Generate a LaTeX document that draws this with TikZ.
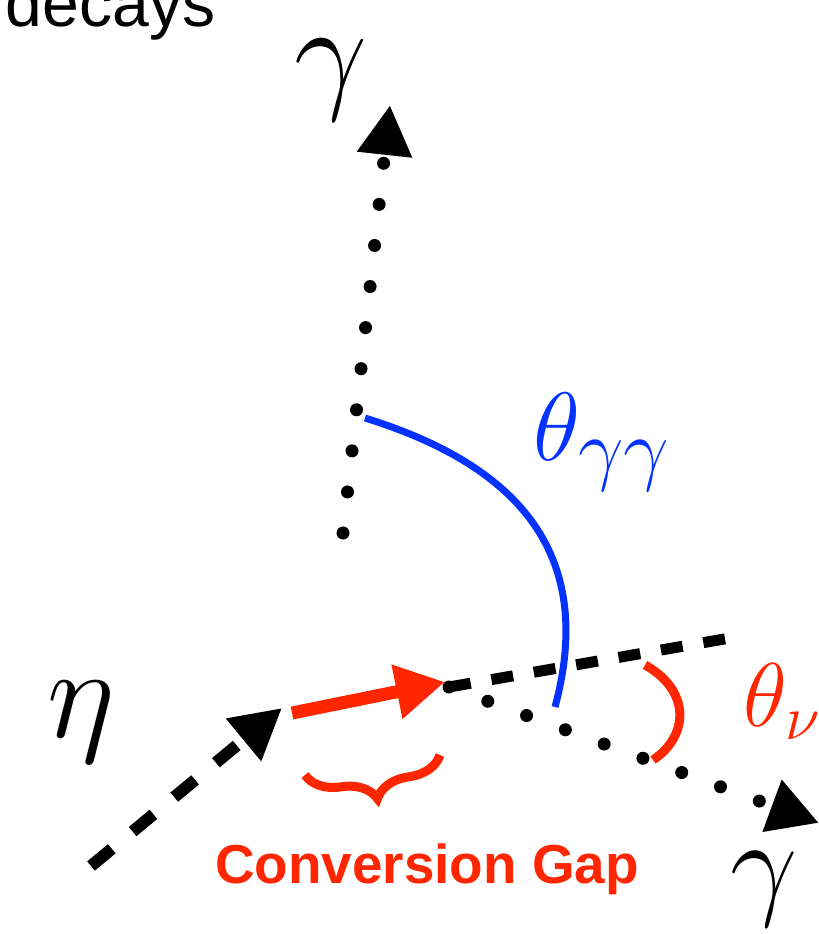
\documentclass[tikz,border=0pt]{standalone}
\usepackage{fontspec}
\newfontfamily\labelfont{Liberation Sans}
\usetikzlibrary{arrows.meta,decorations.pathreplacing}
\definecolor{keyred}{RGB}{255,38,0}
\definecolor{keyblue}{RGB}{4,51,255}
\tikzset{
  bigtip/.style={-{Triangle[length=0.5cm,width=0.52cm]}},
  etaline/.style={bigtip, line width=0.12cm, black, dash pattern=on 0.27cm off 0.27cm},
  nuline/.style={line width=0.11cm, black, dash pattern=on 0.22cm off 0.21cm},
  photon/.style={bigtip, line width=0.13cm, black, line cap=round, dash pattern=on 0pt off 0.413cm},
  convarrow/.style={-{Triangle[length=0.49cm,width=0.52cm]}, line width=0.13cm, keyred},
  ggarc/.style={line width=0.07cm, keyblue},
  nuarc/.style={line width=0.09cm, keyred},
  gapbrace/.style={decorate, decoration={brace,mirror,amplitude=0.34cm}, line width=0.09cm, keyred},
  biglabel/.style={inner sep=0, font=\Huge, scale=1.487},
}

\begin{document}
\begin{tikzpicture}[x=0.01cm, y=-0.01cm]
\clip (0,0) rectangle (819,934);
% end points of the tracks
\coordinate (etastart) at (91,866);
\coordinate (etaend) at (282,708);
\coordinate (gapstart) at (292,713);
\coordinate (conv) at (445,682);
\coordinate (split) at (449,687);
\coordinate (nuend) at (730,638);
\coordinate (gbend) at (819,823);
\coordinate (gtstart) at (343,533);
\coordinate (gtend) at (390,105);
\coordinate (bracel) at (305,775);
\coordinate (bracer) at (440,755);

\draw[etaline] (etastart) -- (etaend);
\draw[nuline] (split) -- (nuend);
\draw[photon] (split) -- (gbend);
\draw[photon] (gtstart) -- (gtend);

% opening angles
\draw[ggarc] (365,418) .. controls (500,460) and (600,540) .. (555,707);
\draw[nuarc] (645,665) .. controls (690,690) and (690,735) .. (653,760);

\draw[convarrow] (gapstart) -- (conv);
\draw[gapbrace] (bracel) -- (bracer);

% labels
\node[anchor=base west, inner sep=0, font=\labelfont\fontsize{18.8}{20}\selectfont] (title) at (5,27) {decays};
\node[biglabel] (gtop) at (331,80) {$\gamma$};
\node[biglabel] (eta) at (81,722) {$\eta$};
\node[biglabel, scale=0.92] (gbot) at (764,889) {$\gamma$};
\node[anchor=base west, inner sep=0, keyblue, font=\Huge, scale=1.11] (ggangle) at (533,461)
  {$\theta_{\gamma\gamma}$};
\node[anchor=base west, inner sep=0, keyred, font=\huge, scale=1.24] (nuangle) at (743,726)
  {$\theta_{\nu\gamma}$};
\node[anchor=base, inner sep=0, keyred, font=\labelfont\bfseries\fontsize{15.6}{17}\selectfont] (gap) at (427,883)
  {Conversion Gap};
\end{tikzpicture}
\end{document}
